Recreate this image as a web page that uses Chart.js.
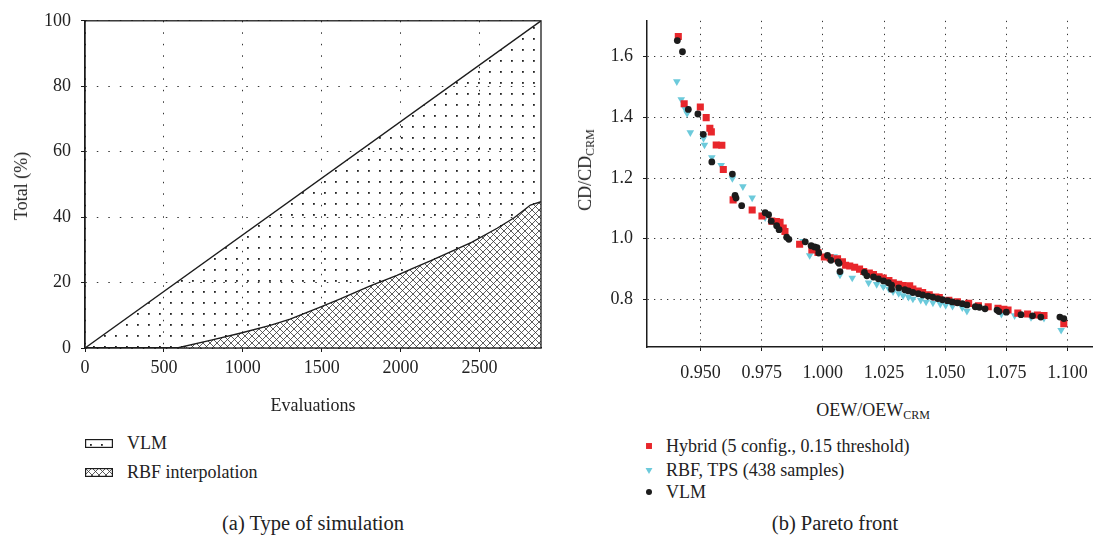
<!DOCTYPE html>
<html>
<head>
<meta charset="utf-8">
<script src="https://cdn.jsdelivr.net/npm/chart.js@4/dist/chart.umd.min.js"></script>
<style>
  html, body { margin: 0; padding: 0; background: #fff; }
  body { width: 1099px; height: 543px; position: relative; overflow: hidden;
         font-family: 'Liberation Serif', 'DejaVu Serif', serif; color: #222; }
  .box { position: absolute; }
  .txt { position: absolute; font-size: 18px; white-space: nowrap; line-height: 1; }
  .cap { font-size: 20.5px; }
  .rot { transform: translate(-50%, -50%) rotate(-90deg); }
  .ctr { transform: translate(-50%, -50%); }
  .mid { transform: translateY(-50%); }
  sub { font-size: 12px; vertical-align: -3px; }
  canvas.sw { position: absolute; }
</style>
</head>
<body>

<div class="box" style="left:0;top:0;width:560px;height:400px"><canvas id="chartSim"></canvas></div>
<div class="box" style="left:560px;top:0;width:539px;height:400px"><canvas id="chartPareto"></canvas></div>

<!-- axis titles -->
<div class="txt rot" style="left:21px;top:186px">Total (%)</div>
<div class="txt ctr" style="left:313px;top:405px">Evaluations</div>
<div class="txt rot" style="left:586px;top:170px">CD/CD<sub>CRM</sub></div>
<div class="txt ctr" style="left:873px;top:411px">OEW/OEW<sub>CRM</sub></div>

<!-- legends -->
<canvas class="sw" id="swVlm" width="28" height="9" style="left:85px;top:439px"></canvas>
<div class="txt mid" style="left:127px;top:443px">VLM</div>
<canvas class="sw" id="swRbf" width="28" height="9" style="left:85px;top:468px"></canvas>
<div class="txt mid" style="left:127px;top:472px">RBF interpolation</div>

<canvas class="sw" id="mkHybrid" width="12" height="12" style="left:643px;top:440px"></canvas>
<div class="txt mid" style="left:666px;top:446px">Hybrid (5 config., 0.15 threshold)</div>
<canvas class="sw" id="mkRbf" width="12" height="12" style="left:643px;top:464px"></canvas>
<div class="txt mid" style="left:666px;top:470px">RBF, TPS (438 samples)</div>
<canvas class="sw" id="mkVlm" width="12" height="12" style="left:643px;top:486px"></canvas>
<div class="txt mid" style="left:666px;top:492px">VLM</div>

<!-- captions -->
<div class="txt cap ctr" style="left:313px;top:523px">(a) Type of simulation</div>
<div class="txt cap ctr" style="left:835px;top:523px">(b) Pareto front</div>

<script>
'use strict';

/* ----------------------------------------------------------
   DATA - (a) type of simulation
   ---------------------------------------------------------- */
const evalTicks  = [0, 500, 1000, 1500, 2000, 2500];
const totalTicks = [0, 20, 40, 60, 80, 100];

// cumulative share of all evaluations (upper line)
const vlmTotal = [[0, 0], [2890, 100]];
// share done through RBF interpolation (lower curve)
const rbfShare = [
  [0, 0], [584, 0], [800, 2.4], [983, 4.5], [1174, 6.9], [1300, 8.8],
  [1491, 12.5], [1618, 15], [1808, 19], [1977, 22.2], [2081, 24.4],
  [2189, 26.6], [2295, 28.9], [2450, 32.3], [2612, 36.6], [2720, 39.8],
  [2823, 43.7], [2890, 44.7]
];

/* ----------------------------------------------------------
   DATA - (b) Pareto front  [OEW/OEW_CRM, CD/CD_CRM]
   ---------------------------------------------------------- */
const oewTicks = [0.950, 0.975, 1.000, 1.025, 1.050, 1.075, 1.100];
const cdTicks  = [0.8, 1.0, 1.2, 1.4, 1.6];

const hybridPts = [
  [0.9409, 1.666], [0.9433, 1.445], [0.9499, 1.434], [0.9523, 1.399], [0.9538, 1.364],
  [0.9544, 1.352], [0.9564, 1.309], [0.9587, 1.308], [0.9593, 1.228], [0.9633, 1.128],
  [0.9711, 1.095], [0.9751, 1.075], [0.9791, 1.058], [0.9810, 1.057], [0.9825, 1.054],
  [0.9838, 1.035], [0.9845, 1.024], [0.9905, 0.982], [0.9955, 0.963], [0.9980, 0.955],
  [1.0006, 0.940], [1.0030, 0.937], [1.0060, 0.934], [1.0080, 0.924], [1.0093, 0.913],
  [1.0110, 0.910], [1.0130, 0.906], [1.0150, 0.900], [1.0167, 0.892], [1.0190, 0.887],
  [1.0207, 0.882], [1.0230, 0.875], [1.0247, 0.871], [1.0270, 0.862], [1.0288, 0.855],
  [1.0310, 0.850], [1.0328, 0.846], [1.0355, 0.845], [1.0368, 0.834], [1.0390, 0.828],
  [1.0408, 0.823], [1.0435, 0.815], [1.0462, 0.808], [1.0476, 0.806], [1.0515, 0.797],
  [1.0550, 0.792], [1.0596, 0.787], [1.0636, 0.779], [1.0676, 0.776], [1.0716, 0.771],
  [1.0740, 0.768], [1.0757, 0.765], [1.0797, 0.755], [1.0837, 0.752], [1.0877, 0.749],
  [1.0904, 0.747], [1.0985, 0.720]
];

const rbfTpsPts = [
  [0.9403, 1.518], [0.9421, 1.459], [0.9435, 1.430], [0.9445, 1.413], [0.9458, 1.350],
  [0.9512, 1.331], [0.9516, 1.309], [0.9546, 1.268], [0.9584, 1.242], [0.9630, 1.199],
  [0.9673, 1.172], [0.9711, 1.135], [0.9764, 1.070], [0.9919, 0.992], [0.9946, 0.945],
  [1.0046, 0.942], [1.0070, 0.881], [1.0120, 0.871], [1.0187, 0.855], [1.0220, 0.850],
  [1.0247, 0.842], [1.0270, 0.835], [1.0287, 0.826], [1.0310, 0.820], [1.0328, 0.813],
  [1.0350, 0.808], [1.0368, 0.802], [1.0400, 0.798], [1.0422, 0.792], [1.0450, 0.789],
  [1.0480, 0.785], [1.0502, 0.781], [1.0530, 0.778], [1.0570, 0.773], [1.0589, 0.762],
  [1.0730, 0.752], [1.0784, 0.747], [1.0851, 0.741], [1.0904, 0.739], [1.0974, 0.699]
];

const vlmPts = [
  [0.9405, 1.653], [0.9426, 1.616], [0.9450, 1.426], [0.9489, 1.411], [0.9511, 1.344],
  [0.9546, 1.253], [0.9630, 1.213], [0.9641, 1.143], [0.9645, 1.134], [0.9668, 1.109],
  [0.9764, 1.086], [0.9778, 1.079], [0.9789, 1.058], [0.9811, 1.043], [0.9821, 1.030],
  [0.9852, 1.005], [0.9861, 0.998], [0.9928, 0.990], [0.9952, 0.977], [0.9966, 0.973],
  [0.9976, 0.971], [0.9983, 0.953], [1.0019, 0.945], [1.0033, 0.929], [1.0062, 0.924],
  [1.0066, 0.919], [1.0070, 0.892], [1.0170, 0.889], [1.0180, 0.878], [1.0207, 0.874],
  [1.0227, 0.868], [1.0248, 0.861], [1.0268, 0.855], [1.0281, 0.847], [1.0281, 0.834],
  [1.0310, 0.838], [1.0335, 0.832], [1.0350, 0.828], [1.0368, 0.823], [1.0390, 0.819],
  [1.0408, 0.815], [1.0430, 0.811], [1.0449, 0.808], [1.0470, 0.803], [1.0489, 0.799],
  [1.0510, 0.796], [1.0529, 0.792], [1.0550, 0.789], [1.0570, 0.786], [1.0589, 0.782],
  [1.0623, 0.776], [1.0640, 0.774], [1.0663, 0.769], [1.0712, 0.765], [1.0720, 0.760],
  [1.0750, 0.758], [1.0810, 0.750], [1.0857, 0.746], [1.0891, 0.742], [1.0969, 0.742],
  [1.0985, 0.737]
];

/* ----------------------------------------------------------
   HELPERS
   ---------------------------------------------------------- */
const RED  = '#e8262b';
const CYAN = '#6ccadb';
const INK  = '#1c1c1c';

const toXY = arr => arr.map(p => ({ x: p[0], y: p[1] }));

function dotPattern(ctx) {
  const c = document.createElement('canvas');
  c.width = 11; c.height = 11;
  const g = c.getContext('2d');
  g.fillStyle = '#222';
  g.fillRect(5, 5, 1.8, 1.8);
  return ctx.createPattern(c, 'repeat');
}

function hatchPattern(ctx) {
  const s = 7;
  const c = document.createElement('canvas');
  c.width = s; c.height = s;
  const g = c.getContext('2d');
  g.fillStyle = '#fff';
  g.fillRect(0, 0, s, s);
  g.strokeStyle = '#333';
  g.lineWidth = 0.8;
  g.beginPath();
  g.moveTo(-1, -1); g.lineTo(s + 1, s + 1);
  g.moveTo(-1, s + 1); g.lineTo(s + 1, -1);
  g.stroke();
  return ctx.createPattern(c, 'repeat');
}

function fixedTicks(values) {
  return scale => { scale.ticks = values.map(v => ({ value: v })); };
}

Chart.defaults.font.family = "'Liberation Serif', 'DejaVu Serif', serif";
Chart.defaults.font.size = 18;
Chart.defaults.color = '#222';
Chart.defaults.animation = false;

// box round plot (a)
const frameBox = {
  id: 'frameBox',
  afterDatasetsDraw(chart) {
    const { ctx, chartArea: a } = chart;
    ctx.save();
    ctx.strokeStyle = INK;
    ctx.lineWidth = 1.3;
    ctx.strokeRect(a.left, a.top, a.right - a.left, a.bottom - a.top);
    ctx.restore();
  }
};

/* ----------------------------------------------------------
   (a) TYPE OF SIMULATION
   ---------------------------------------------------------- */
const simCtx = document.getElementById('chartSim').getContext('2d');
new Chart(simCtx, {
  type: 'line',
  data: {
    datasets: [
      {
        label: 'VLM',
        data: toXY(vlmTotal),
        borderColor: INK, borderWidth: 1.4,
        backgroundColor: dotPattern(simCtx),
        fill: 'origin', pointRadius: 0, order: 2
      },
      {
        label: 'RBF interpolation',
        data: toXY(rbfShare),
        borderColor: INK, borderWidth: 1.4,
        backgroundColor: hatchPattern(simCtx),
        fill: 'origin', pointRadius: 0, order: 1
      }
    ]
  },
  options: {
    responsive: true,
    maintainAspectRatio: false,
    layout: { padding: { top: 17, right: 19, left: 0, bottom: 0 } },
    plugins: { legend: { display: false }, tooltip: { enabled: false } },
    scales: {
      x: {
        type: 'linear', min: 0, max: 2890,
        afterBuildTicks: fixedTicks(evalTicks),
        afterFit: s => { s.height = 52; },
        ticks: { padding: 5, maxRotation: 0, callback: v => String(v) },
        grid: { color: '#333', tickColor: INK, tickLength: 4, lineWidth: 1 },
        border: { color: INK, width: 1.3, dash: [1.5, 10] }
      },
      y: {
        type: 'linear', min: 0, max: 100,
        afterBuildTicks: fixedTicks(totalTicks),
        afterFit: s => { s.width = 85; },
        ticks: { padding: 10 },
        grid: { color: '#333', tickColor: INK, tickLength: 4, lineWidth: 1 },
        border: { color: INK, width: 1.3, dash: [1.5, 10] }
      }
    }
  },
  plugins: [frameBox]
});

/* ----------------------------------------------------------
   (b) PARETO FRONT
   ---------------------------------------------------------- */
const marker = (style, color, radius, rotation = 0) => ({
  pointStyle: style, pointRadius: radius, pointRotation: rotation,
  backgroundColor: color, borderColor: color, borderWidth: 0, showLine: false
});

new Chart(document.getElementById('chartPareto'), {
  type: 'scatter',
  data: {
    datasets: [
      { label: 'Hybrid (5 config., 0.15 threshold)', data: toXY(hybridPts), order: 1, ...marker('rect', RED, 5) },
      { label: 'RBF, TPS (438 samples)', data: toXY(rbfTpsPts), order: 2, ...marker('triangle', CYAN, 4.4, 180) },
      { label: 'VLM', data: toXY(vlmPts), order: 0, ...marker('circle', INK, 3.4) }
    ]
  },
  options: {
    responsive: true,
    maintainAspectRatio: false,
    layout: { padding: { top: 8, right: 0, left: 0, bottom: 0 } },
    plugins: { legend: { display: false }, tooltip: { enabled: false } },
    scales: {
      x: {
        type: 'linear', min: 0.9281, max: 1.1102,
        afterBuildTicks: fixedTicks(oewTicks),
        afterFit: s => { s.height = 53; },
        ticks: { padding: 11, maxRotation: 0, callback: v => v.toFixed(3) },
        grid: { color: '#333', tickColor: INK, tickLength: 4, lineWidth: 1 },
        border: { color: INK, width: 1.5, dash: [1.3, 5.2] }
      },
      y: {
        type: 'linear', min: 0.6434, max: 1.718,
        afterBuildTicks: fixedTicks(cdTicks),
        afterFit: s => { s.width = 87; },
        ticks: { padding: 10, callback: v => v.toFixed(1) },
        grid: { color: '#333', tickColor: INK, tickLength: 4, lineWidth: 1 },
        border: { color: INK, width: 1.5, dash: [1.3, 5.2] }
      }
    }
  }
});

/* ----------------------------------------------------------
   LEGEND SWATCHES
   ---------------------------------------------------------- */
function drawSwatch(id, makePattern) {
  const c = document.getElementById(id);
  const g = c.getContext('2d');
  g.fillStyle = makePattern(g);
  g.fillRect(0, 0, c.width, c.height);
  g.strokeStyle = INK;
  g.lineWidth = 1.2;
  g.strokeRect(0.6, 0.6, c.width - 1.2, c.height - 1.2);
}
drawSwatch('swVlm', dotPattern);
drawSwatch('swRbf', hatchPattern);

function drawMarker(id, style, color, radius, rotation) {
  const c = document.getElementById(id);
  const g = c.getContext('2d');
  g.fillStyle = color;
  g.strokeStyle = color;
  g.lineWidth = 0;
  Chart.helpers.drawPoint(g, { pointStyle: style, radius, rotation, borderWidth: 0 }, 6, 6);
}
drawMarker('mkHybrid', 'rect', RED, 4.2, 0);
drawMarker('mkRbf', 'triangle', CYAN, 4, 180);
drawMarker('mkVlm', 'circle', INK, 3, 0);
</script>
</body>
</html>
